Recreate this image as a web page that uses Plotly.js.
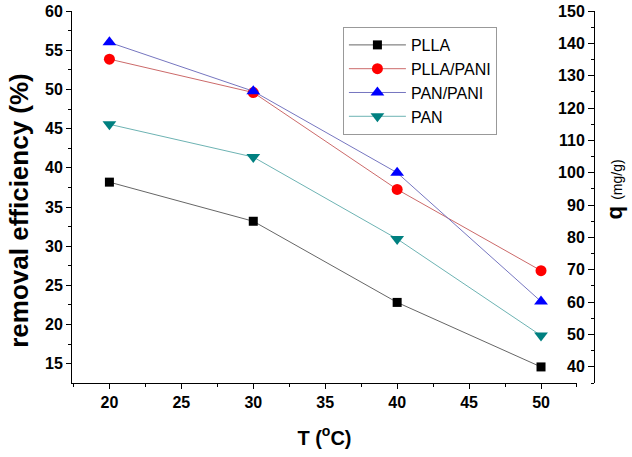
<!DOCTYPE html>
<html>
<head>
<meta charset="utf-8">
<script src="https://cdn.plot.ly/plotly-3.0.1.min.js"></script>
<style>html,body{margin:0;padding:0;background:#fff;}#chart{width:632px;height:457px;}</style>
</head>
<body>
<div id="chart"></div>
<script>
var temperature = [20, 30, 40, 50];
var plla = [38.17, 33.18, 22.83, 14.6];
var pllaPani = [53.86, 49.6, 37.24, 26.88];
var panPani = [56.0, 49.77, 39.37, 22.95];
var pan = [45.55, 41.37, 30.93, 18.6];
var seriesNames = ["PLLA", "PLLA/PANI", "PAN/PANI", "PAN"];

var fontFam = "Arial, 'Liberation Sans', sans-serif";

function mk(name, y, lineColor, markerColor, symbol, size) {
  return {
    x: temperature, y: y, name: name, type: "scatter", mode: "lines+markers",
    line: {color: lineColor, width: 1},
    marker: {color: markerColor, symbol: symbol, size: size, line: {width: 0}}
  };
}

var traces = [
  mk(seriesNames[0], plla, "#666666", "#000000", "square", 9),
  mk(seriesNames[1], pllaPani, "#cc6a6a", "#ff0000", "circle", 11),
  mk(seriesNames[2], panPani, "#7676c0", "#0000ff", "triangle-up", 12),
  mk(seriesNames[3], pan, "#6db3b3", "#008080", "triangle-down", 12),
  {x: [], y: [], yaxis: "y2", type: "scatter", mode: "markers", showlegend: false, hoverinfo: "skip"}
];

var tickFont = {family: fontFam, size: 16, color: "#000", weight: "bold"};

var layout = {
  width: 632, height: 457,
  margin: {l: 72, r: 38, t: 11, b: 74},
  paper_bgcolor: "#fff", plot_bgcolor: "#fff",
  showlegend: true,
  legend: {
    x: 0.519, y: 0.957, xanchor: "left", yanchor: "top",
    bordercolor: "#999", borderwidth: 1, bgcolor: "#fff",
    itemwidth: 57,
    font: {family: fontFam, size: 16, color: "#000"}
  },
  xaxis: {
    domain: [0, 0.9674],
    range: [17.4, 52.5],
    dtick: 5, tick0: 0,
    ticks: "outside", ticklen: 5, tickwidth: 1, tickcolor: "#000",
    minor: {dtick: 2.5, tick0: 0, ticks: "outside", ticklen: 3, tickcolor: "#000"},
    showline: true, linecolor: "#000", linewidth: 1,
    showgrid: false, zeroline: false,
    tickfont: tickFont,
    title: {text: "T (<sup>o</sup>C)", font: {family: fontFam, size: 20, color: "#000", weight: "bold"}, standoff: 20}
  },
  yaxis: {
    range: [12.55, 60],
    dtick: 5, tick0: 0,
    ticks: "outside", ticklen: 5, tickwidth: 1, tickcolor: "#000",
    minor: {dtick: 2.5, tick0: 0, ticks: "outside", ticklen: 3, tickcolor: "#000"},
    showline: true, linecolor: "#000", linewidth: 1,
    showgrid: false, zeroline: false,
    tickfont: tickFont
  },
  yaxis2: {
    overlaying: "y", anchor: "free", position: 1, side: "left",
    range: [35, 150],
    dtick: 10, tick0: 0,
    ticks: "outside", ticklen: 6, tickwidth: 1, tickcolor: "#000",
    minor: {dtick: 5, tick0: 0, ticks: "outside", ticklen: 3, tickcolor: "#000"},
    showline: true, linecolor: "#000", linewidth: 1,
    showgrid: false, zeroline: false,
    tickfont: tickFont
  },
  annotations: [{
    xref: "paper", yref: "paper", x: -0.102, y: 0.465,
    xanchor: "center", yanchor: "middle", textangle: -90, showarrow: false,
    text: "<b>removal efficiency (%)</b>",
    font: {family: fontFam, size: 26, color: "#000"}
  }, {
    xref: "paper", yref: "paper", x: 1.04, y: 0.52,
    xanchor: "center", yanchor: "middle", textangle: -90, showarrow: false,
    text: "<b>q</b> <span style='font-size:14px'>(mg/g)</span>",
    font: {family: fontFam, size: 22, color: "#000"}
  }]
};

Plotly.newPlot("chart", traces, layout, {displayModeBar: false, staticPlot: true});
</script>
</body>
</html>
